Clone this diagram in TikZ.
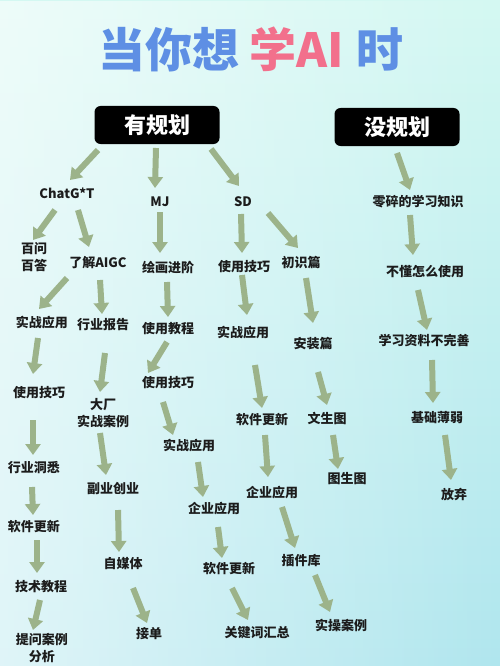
\documentclass[tikz,border=0pt]{standalone}
\usepackage{fontspec}
\usepackage{tikz}
\usetikzlibrary{arrows.meta, calc, fadings}
\newfontfamily\cjk{Noto Sans CJK SC}
\newfontfamily\cjkheavy{Noto Sans CJK SC Black}
\definecolor{bgtop}{HTML}{D4F8F2}
\definecolor{bgbot}{HTML}{B0E6EE}
\definecolor{arrowgreen}{HTML}{9CB38A}
\definecolor{titleblue}{HTML}{5E8FE4}
\definecolor{titlepink}{HTML}{F2708C}
\definecolor{inkblack}{HTML}{1C1C1C}

\begin{document}
\begin{tikzpicture}[x=1pt, y=-1pt]

% Styles
\tikzset{
    planbox/.style={rectangle, rounded corners=6pt, fill=black, text=white, minimum width=125pt, minimum height=38pt, font=\cjk\bfseries\fontsize{22}{26}\selectfont},
    lbl/.style={inner sep=0pt, text=inkblack, align=center, font=\cjk\bfseries\fontsize{13}{17}\selectfont},
    arrow/.style={draw=arrowgreen, line width=6pt, -{Triangle[width=15pt, length=11pt]}}
}

% Background
\useasboundingbox (0,0) rectangle (500,666);
\shade[top color=bgtop, bottom color=bgbot] (0,0) rectangle (500,666);
\fill[white, path fading=east, fill opacity=0.6] (0,0) rectangle (500,666);

% Title
\node (title) at (251,49) [font=\cjkheavy\fontsize{47}{50}\selectfont] {\color{titleblue}当你想\hspace{10pt}\color{titlepink}学AI\hspace{12pt}\color{titleblue}时};

% Nodes
\node (plan) at (157,125) [planbox] {有规划};
\node (noplan) at (397,127) [planbox] {没规划};

\node (chat) at (67,193) [lbl] {ChatG*T};
\node (mj) at (160,202) [lbl] {MJ};
\node (sd) at (243,202) [lbl] {SD};
\node (scrap) at (418,202) [lbl] {零碎的学习知识};

\node (qa) at (34,257) [lbl] {百问\\百答};
\node (aigc) at (98,263) [lbl] {了解AIGC};
\node (paint) at (168,268) [lbl] {绘画进阶};
\node (sdtips) at (244,267) [lbl] {使用技巧};
\node (intro) at (301,263) [lbl] {初识篇};
\node (nouse) at (425,272) [lbl] {不懂怎么使用};

\node (cpractice) at (42,323) [lbl] {实战应用};
\node (report) at (103,325) [lbl] {行业报告};
\node (mjtut) at (168,329) [lbl] {使用教程};
\node (sdpractice) at (243,333) [lbl] {实战应用};
\node (install) at (313,344) [lbl] {安装篇};
\node (material) at (424,340) [lbl] {学习资料不完善};

\node (ctips) at (39,393) [lbl] {使用技巧};
\node (bigcase) at (103,413) [lbl] {大厂\\实战案例};
\node (mjtips) at (168,383) [lbl] {使用技巧};
\node (sdupdate) at (262,420) [lbl] {软件更新};
\node (txtimg) at (327,418) [lbl] {文生图};
\node (weak) at (437,418) [lbl] {基础薄弱};

\node (insight) at (34,468) [lbl] {行业洞悉};
\node (side) at (113,489) [lbl] {副业创业};
\node (mjpractice) at (189,446) [lbl] {实战应用};
\node (sdent) at (272,493) [lbl] {企业应用};
\node (imgimg) at (347,479) [lbl] {图生图};
\node (quit) at (454,494) [lbl] {放弃};

\node (cupdate) at (34,527) [lbl] {软件更新};
\node (media) at (123,564) [lbl] {自媒体};
\node (mjent) at (214,509) [lbl] {企业应用};
\node (plugin) at (301,561) [lbl] {插件库};

\node (techtut) at (41,587) [lbl] {技术教程};
\node (order) at (149,634) [lbl] {接单};
\node (mjupdate) at (229,569) [lbl] {软件更新};
\node (handson) at (341,625) [lbl] {实操案例};

\node (prompt) at (42,648) [lbl] {提问案例\\分析};
\node (keyword) at (257,633) [lbl] {关键词汇总};

% Arrows
\draw [arrow] ($(plan)+(-59,25)$) -- ($(chat)+(3,-13)$);
\draw [arrow] ($(plan)+(-1,23)$) -- ($(mj)+(-5,-14)$);
\draw [arrow] ($(plan)+(54,24)$) -- ($(sd)+(-4,-16)$);
\draw [arrow] ($(noplan)+(0,26)$) -- ($(scrap)+(-8,-12)$);

\draw [arrow] ($(chat)+(-12,17)$) -- ($(qa)+(-1,-17)$);
\draw [arrow] ($(chat)+(11,17)$) -- ($(aigc)+(-9,-16)$);
\draw [arrow] ($(mj)+(0,10)$) -- ($(paint)+(-8,-15)$);
\draw [arrow] ($(sd)+(-2,12)$) -- ($(sdtips)+(-2,-14)$);
\draw [arrow] ($(sd)+(25,11)$) -- ($(intro)+(-3,-15)$);
\draw [arrow] ($(scrap)+(-8,13)$) -- ($(nouse)+(-12,-17)$);

\draw [arrow] ($(aigc)+(-31,15)$) -- ($(cpractice)+(-3,-14)$);
\draw [arrow] ($(aigc)+(2,17)$) -- ($(report)+(-1,-11)$);
\draw [arrow] ($(paint)+(-1,14)$) -- ($(mjtut)+(0,-12)$);
\draw [arrow] ($(sdtips)+(-2,8)$) -- ($(sdpractice)+(4,-18)$);
\draw [arrow] ($(intro)+(5,15)$) -- ($(install)+(0,-21)$);
\draw [arrow] ($(nouse)+(-7,18)$) -- ($(material)+(3,-10)$);

\draw [arrow] ($(cpractice)+(-4,15)$) -- ($(ctips)+(-6,-19)$);
\draw [arrow] ($(report)+(2,28)$) -- ($(bigcase)+(-3,-21)$);
\draw [arrow] ($(mjtut)+(-1,13)$) -- ($(mjtips)+(-20,-10)$);
\draw [arrow] ($(sdpractice)+(12,32)$) -- ($(sdupdate)+(0,-12)$);
\draw [arrow] ($(install)+(5,28)$) -- ($(txtimg)+(0,-13)$);
\draw [arrow] ($(material)+(8,20)$) -- ($(weak)+(-4,-15)$);

\draw [arrow] ($(ctips)+(-6,27)$) -- ($(insight)+(-1,-13)$);
\draw [arrow] ($(bigcase)+(-3,20)$) -- ($(side)+(-7,-14)$);
\draw [arrow] ($(mjtips)+(-5,19)$) -- ($(mjpractice)+(-16,-11)$);
\draw [arrow] ($(sdupdate)+(3,15)$) -- ($(sdent)+(-4,-16)$);
\draw [arrow] ($(txtimg)+(6,17)$) -- ($(imgimg)+(-9,-10)$);
\draw [arrow] ($(weak)+(8,17)$) -- ($(quit)+(-3,-14)$);

\draw [arrow] ($(insight)+(-2,19)$) -- ($(cupdate)+(-1,-12)$);
\draw [arrow] ($(side)+(5,21)$) -- ($(media)+(-4,-12)$);
\draw [arrow] ($(mjpractice)+(9,16)$) -- ($(mjent)+(-11,-12)$);
\draw [arrow] ($(sdent)+(10,14)$) -- ($(plugin)+(-6,-13)$);

\draw [arrow] ($(cupdate)+(3,13)$) -- ($(techtut)+(-4,-14)$);
\draw [arrow] ($(media)+(10,24)$) -- ($(order)+(-2,-11)$);
\draw [arrow] ($(mjent)+(4,18)$) -- ($(mjupdate)+(-7,-11)$);
\draw [arrow] ($(plugin)+(14,14)$) -- ($(handson)+(-11,-13)$);

\draw [arrow] ($(techtut)+(-1,13)$) -- ($(prompt)+(-9,-18)$);
\draw [arrow] ($(mjupdate)+(3,19)$) -- ($(keyword)+(-9,-13)$);

\end{tikzpicture}
\end{document}
